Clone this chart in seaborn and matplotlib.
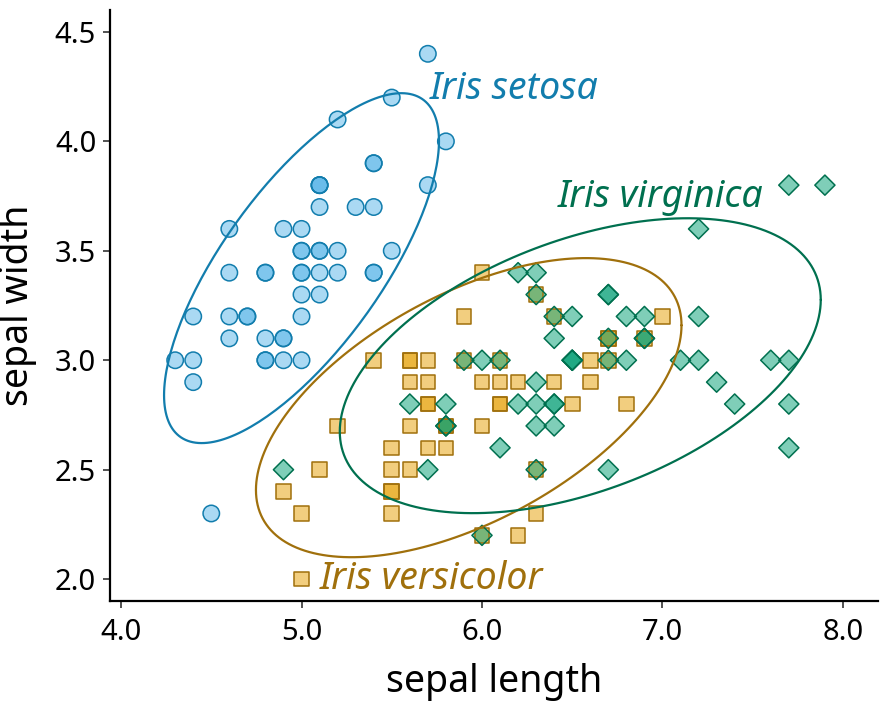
import numpy as np
import pandas as pd
import matplotlib
matplotlib.use("Agg")
import matplotlib.pyplot as plt
import seaborn as sns
from scipy import stats

setosa_len = [5.1,4.9,4.7,4.6,5.0,5.4,4.6,5.0,4.4,4.9,5.4,4.8,4.8,4.3,5.8,5.7,5.4,5.1,5.7,5.1,
              5.4,5.1,4.6,5.1,4.8,5.0,5.0,5.2,5.2,4.7,4.8,5.4,5.2,5.5,4.9,5.0,5.5,4.9,4.4,5.1,
              5.0,4.5,4.4,5.0,5.1,4.8,5.1,4.6,5.3,5.0]
setosa_wid = [3.5,3.0,3.2,3.1,3.6,3.9,3.4,3.4,2.9,3.1,3.7,3.4,3.0,3.0,4.0,4.4,3.9,3.5,3.8,3.8,
              3.4,3.7,3.6,3.3,3.4,3.0,3.4,3.5,3.4,3.2,3.1,3.4,4.1,4.2,3.1,3.2,3.5,3.6,3.0,3.4,
              3.5,2.3,3.2,3.5,3.8,3.0,3.8,3.2,3.7,3.3]
versicolor_len = [7.0,6.4,6.9,5.5,6.5,5.7,6.3,4.9,6.6,5.2,5.0,5.9,6.0,6.1,5.6,6.7,5.6,5.8,6.2,5.6,
                  5.9,6.1,6.3,6.1,6.4,6.6,6.8,6.7,6.0,5.7,5.5,5.5,5.8,6.0,5.4,6.0,6.7,6.3,5.6,5.5,
                  5.5,6.1,5.8,5.0,5.6,5.7,5.7,6.2,5.1,5.7]
versicolor_wid = [3.2,3.2,3.1,2.3,2.8,2.8,3.3,2.4,2.9,2.7,2.0,3.0,2.2,2.9,2.9,3.1,3.0,2.7,2.2,2.5,
                  3.2,2.8,2.5,2.8,2.9,3.0,2.8,3.0,2.9,2.6,2.4,2.4,2.7,2.7,3.0,3.4,3.1,2.3,3.0,2.5,
                  2.6,3.0,2.6,2.3,2.7,3.0,2.9,2.9,2.5,2.8]
virginica_len = [6.3,5.8,7.1,6.3,6.5,7.6,4.9,7.3,6.7,7.2,6.5,6.4,6.8,5.7,5.8,6.4,6.5,7.7,7.7,6.0,
                 6.9,5.6,7.7,6.3,6.7,7.2,6.2,6.1,6.4,7.2,7.4,7.9,6.4,6.3,6.1,7.7,6.3,6.4,6.0,6.9,
                 6.7,6.9,5.8,6.8,6.7,6.7,6.3,6.5,6.2,5.9]
virginica_wid = [3.3,2.7,3.0,2.9,3.0,3.0,2.5,2.9,2.5,3.6,3.2,2.7,3.0,2.5,2.8,3.2,3.0,3.8,2.6,2.2,
                 3.2,2.8,2.8,2.7,3.3,3.2,2.8,3.0,2.8,3.0,2.8,3.8,2.8,2.8,2.6,3.0,3.4,3.1,3.0,3.1,
                 3.1,3.1,2.7,3.2,3.3,3.0,2.5,3.0,3.4,3.0]

species = ["Iris setosa", "Iris versicolor", "Iris virginica"]
lengths = [setosa_len, versicolor_len, virginica_len]
widths = [setosa_wid, versicolor_wid, virginica_wid]
xticks = [4.0, 5.0, 6.0, 7.0, 8.0]
yticks = [2.0, 2.5, 3.0, 3.5, 4.0, 4.5]

fills = ["#56B4E9", "#E69F00", "#009E73"]
edges = ["#127DAD", "#A0700C", "#00704F"]
markers = ["o", "s", "D"]
sizes = [140, 110, 105]
label_pos = [(5.71, 4.24), (5.10, 2.0), (6.42, 3.745)]

df = pd.DataFrame({
    "sepal length": sum(lengths, []),
    "sepal width": sum(widths, []),
    "species": sum([[s] * len(l) for s, l in zip(species, lengths)], []),
})


def cov_trob(X, nu=5, maxit=25, tol=0.01):
    n, p = X.shape
    wt = np.ones(n)
    loc = X.mean(axis=0)
    w = np.sqrt(wt)
    for _ in range(maxit):
        w0 = w
        Xc = X - loc
        _, d, vt = np.linalg.svd(np.sqrt(w / w.sum())[:, None] * Xc, full_matrices=False)
        wX = Xc @ vt.T @ np.diag(1 / d)
        Q = (wX ** 2).sum(axis=1)
        w = (wt * (nu + p)) / (nu + Q)
        loc = (w[:, None] * X).sum(axis=0) / w.sum()
        if np.all(np.abs(w - w0) < tol):
            break
    cov = (np.sqrt(w)[:, None] * Xc).T @ (np.sqrt(w)[:, None] * Xc) / wt.sum()
    return loc, cov


def ellipse_path(X, level=0.95, segments=200):
    n = len(X)
    loc, cov = cov_trob(X)
    chol = np.linalg.cholesky(cov).T
    radius = np.sqrt(2 * stats.f.ppf(level, 2, n - 1))
    t = np.linspace(0, 2 * np.pi, segments + 1)
    circle = np.column_stack([np.cos(t), np.sin(t)])
    pts = loc + radius * circle @ chol
    return pts[:, 0], pts[:, 1]


sns.set_theme(style="ticks")
plt.rcParams["font.family"] = ["Noto Sans", "DejaVu Sans"]

fig, ax = plt.subplots(figsize=(8.83, 7.06), dpi=100)
fig.subplots_adjust(left=0.1246, right=0.9943, top=0.9858, bottom=0.1487)

for sp, fc, ec, mk, sz in zip(species, fills, edges, markers, sizes):
    sub = df[df["species"] == sp]
    sns.scatterplot(data=sub, x="sepal length", y="sepal width", marker=mk, s=sz,
                    color=fc, alpha=0.5, edgecolor="none", linewidth=0, ax=ax, zorder=2)
    sns.scatterplot(data=sub, x="sepal length", y="sepal width", marker=mk, s=sz,
                    facecolor="none", edgecolor=ec, linewidth=1.1, ax=ax, zorder=3)
    ex, ey = ellipse_path(sub[["sepal length", "sepal width"]].to_numpy())
    sns.lineplot(x=ex, y=ey, sort=False, estimator=None, color=ec, linewidth=1.6,
                 ax=ax, zorder=4)

for sp, ec, (lx, ly) in zip(species, edges, label_pos):
    ax.text(lx, ly, sp, color=ec, fontsize=27, style="italic", ha="left", va="center", zorder=5)

ax.set_xlim(3.939, 8.194)
ax.set_ylim(1.90, 4.60)
ax.set_xticks(xticks)
ax.set_xticklabels([f"{v:.1f}" for v in xticks])
ax.set_yticks(yticks)
ax.set_yticklabels([f"{v:.1f}" for v in yticks])
ax.tick_params(labelsize=21, width=1.2, length=5, color="#333333", pad=5, labelcolor="black")
ax.tick_params(axis="x", pad=7)
ax.set_xlabel("sepal length", fontsize=27, labelpad=12, color="black")
ax.set_ylabel("sepal width", fontsize=27, labelpad=13, color="black")
for s in ["left", "bottom"]:
    ax.spines[s].set_linewidth(1.6)
    ax.spines[s].set_color("black")
sns.despine(ax=ax)

fig.savefig("out.png", dpi=100)
